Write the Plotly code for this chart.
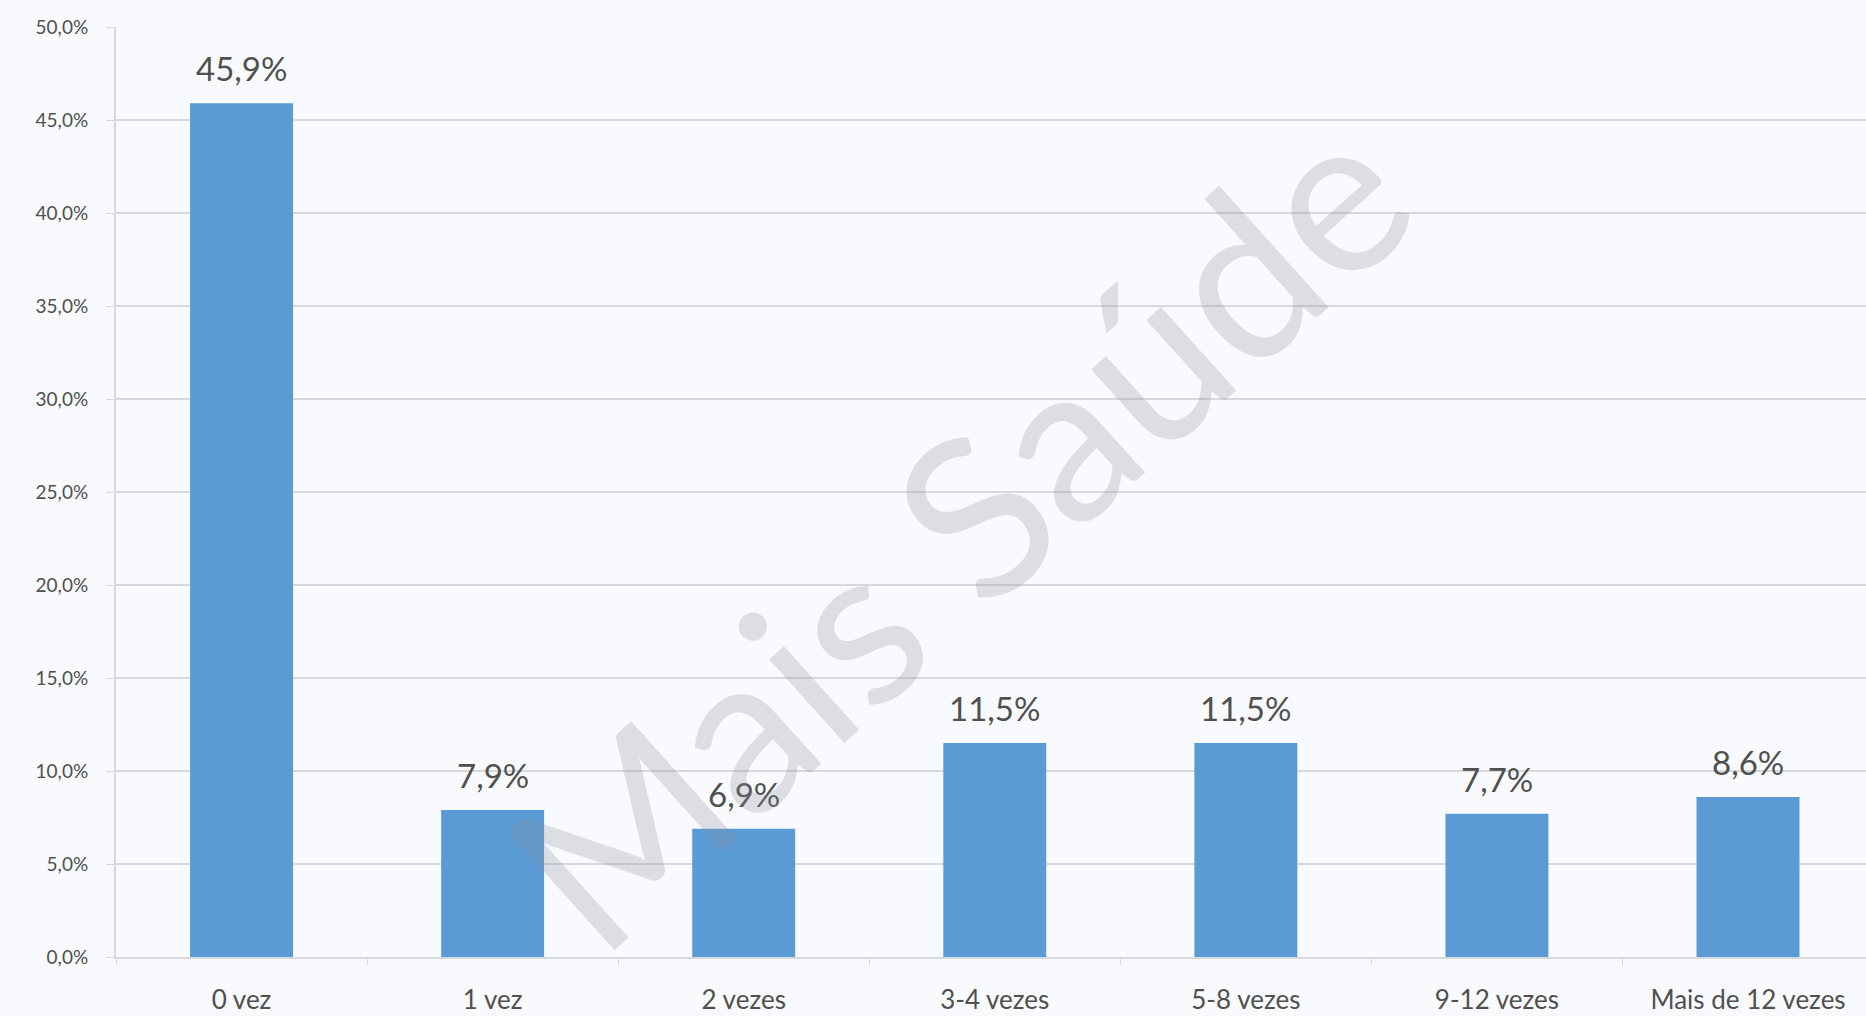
import plotly.graph_objects as go

# Frequency categories and share of respondents (%)
categories = ["0 vez", "1 vez", "2 vezes", "3-4 vezes", "5-8 vezes", "9-12 vezes", "Mais de 12 vezes"]
values = [45.9, 7.9, 6.9, 11.5, 11.5, 7.7, 8.6]
labels = ["45,9%", "7,9%", "6,9%", "11,5%", "11,5%", "7,7%", "8,6%"]
y_ticks = [0, 5, 10, 15, 20, 25, 30, 35, 40, 45, 50]
y_tick_text = ["0,0%", "5,0%", "10,0%", "15,0%", "20,0%", "25,0%",
               "30,0%", "35,0%", "40,0%", "45,0%", "50,0%"]

BAR_BLUE = "#5B9BD5"
TEXT_GREY = "#505050"
GRID_GREY = "#d6d8dc"
FONT = "Lato, Open Sans, sans-serif"

fig = go.Figure()
fig.add_trace(go.Bar(
    x=categories,
    y=values,
    marker=dict(color=BAR_BLUE, line=dict(width=0)),
    width=0.41,
    hoverinfo="skip",
))

# Value labels above each bar
value_labels = [
    dict(x=c, y=v, text=t, xref="x", yref="y", showarrow=False,
         yanchor="bottom", yshift=13,
         font=dict(family=FONT, size=33, color=TEXT_GREY))
    for c, v, t in zip(categories, values, labels)
]

# Diagonal watermark
watermark = dict(
    text="Mais Saúde",
    xref="paper", yref="paper",
    x=0.48, y=0.462,
    showarrow=False,
    textangle=-42,
    font=dict(family=FONT, size=222, color="rgba(140,140,150,0.25)"),
)

fig.update_layout(
    width=1866,
    height=1016,
    margin=dict(l=116, r=0, t=27, b=59),
    paper_bgcolor="#f9fafd",
    plot_bgcolor="#f9fafd",
    showlegend=False,
    font=dict(family=FONT, color=TEXT_GREY),
    annotations=value_labels + [watermark],
)

fig.update_xaxes(
    type="category",
    range=[-0.5, 6.47],
    showgrid=False,
    showline=True,
    linecolor=GRID_GREY,
    linewidth=2,
    ticks="outside",
    tickson="boundaries",
    ticklen=6,
    tickcolor=GRID_GREY,
    tickfont=dict(size=26, color=TEXT_GREY),
    ticklabelstandoff=19,
)

fig.update_yaxes(
    range=[0, 50],
    tickvals=y_ticks,
    ticktext=y_tick_text,
    showgrid=True,
    gridcolor=GRID_GREY,
    gridwidth=2,
    zeroline=False,
    showline=True,
    linecolor=GRID_GREY,
    linewidth=2,
    ticks="outside",
    ticklen=8,
    tickcolor=GRID_GREY,
    tickfont=dict(size=19, color=TEXT_GREY),
    ticklabelstandoff=14,
)

fig.write_html("out.html")
